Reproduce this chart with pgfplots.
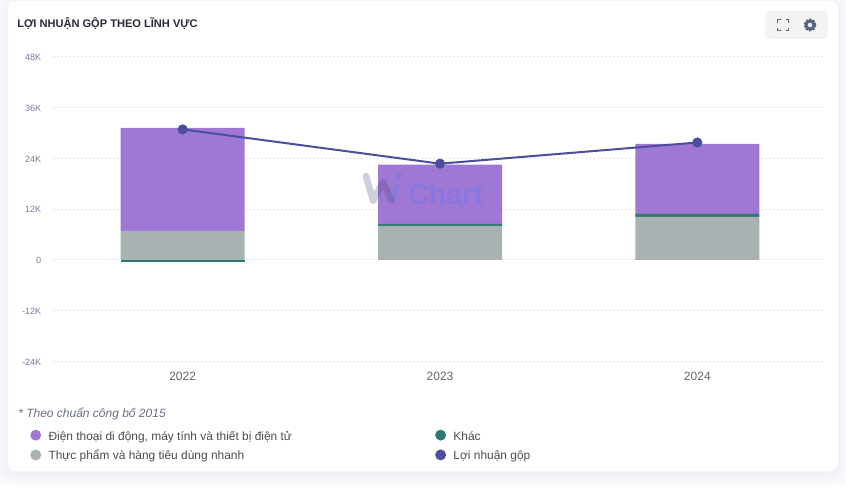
\documentclass[border=0pt]{standalone}
\usepackage{pgfplots}
\pgfplotsset{compat=1.18}
\usepackage{fontspec}
\setmainfont{Liberation Sans}
\definecolor{cPurple}{HTML}{9F77D5}
\definecolor{cGray}{HTML}{A9B1B3}
\definecolor{cGreen}{HTML}{2E7A71}
\definecolor{cLine}{HTML}{4A4E9C}
\definecolor{cGrid}{HTML}{C9CBD3}
\definecolor{cTick}{HTML}{7A7B9C}
\definecolor{cIcon}{HTML}{566580}
\definecolor{cTitle}{HTML}{2A2B3A}
\definecolor{cNote}{HTML}{6B6F85}
\definecolor{cBtn}{HTML}{F4F3F2}
\definecolor{cMarkA}{HTML}{3E4270}
\definecolor{cMarkB}{HTML}{537AF3}
\pgfplotsset{
  frame/.style={
    at={(40.5pt,-271.125pt)}, anchor=south west,
    scale only axis, width=579pt, height=228.75pt,
    xmin=-0.5, xmax=2.5, ymin=-24, ymax=48,
    axis line style={draw=none}, tick style={draw=none},
    xtick={0,1,2}, ytick={-24,-12,0,12,24,36,48},
    clip=false,
  },
  blank/.style={frame, xticklabels={}, yticklabels={}},
  dot/.style={legend image code/.code={\fill[#1,draw=none] (0.1cm,0) circle (4.1pt); \path[draw=none] (0.1cm,0) -- ++(8.6pt,0);}},
}
\begin{document}
\begin{tikzpicture}[x=0.75pt,y=-0.75pt]
\useasboundingbox (0,0) rectangle (846,489);
\fill[white] (0,0) rectangle (846,489);
% card with soft shadow
\foreach \d/\o in {14/0.05,11/0.06,8/0.07,5/0.08,2/0.10}
  \fill[black!30!blue!15,opacity=\o,rounded corners=8] (8-\d,1-\d+3) rectangle (838+\d,471+\d+3);
\fill[white,rounded corners=6] (8,1) rectangle (838,471);

\node[anchor=west,text=cTitle,inner sep=0,font=\fontsize{8.3}{10}\selectfont\bfseries] at (17,24) {LỢI NHUẬN GỘP THEO LĨNH VỰC};

% buttons
\fill[cBtn,rounded corners=4] (765,11) rectangle (828,39);
\begin{scope}[draw=cIcon,line width=1.1pt]
  \draw (777.5,22.5) -- (777.5,19.5) -- (780.5,19.5);
  \draw (785.5,19.5) -- (788.5,19.5) -- (788.5,22.5);
  \draw (788.5,27.5) -- (788.5,30.5) -- (785.5,30.5);
  \draw (780.5,30.5) -- (777.5,30.5) -- (777.5,27.5);
\end{scope}
\draw[cIcon,line width=2.2pt] (810,25) circle (3pt);
\draw[cIcon,line width=1.5pt,dash pattern=on 1.5pt off 1.1pt] (810,25) circle (4.1pt);

\begin{axis}[blank,
    ymajorgrids, grid style={cGrid,line width=0.75pt,dash pattern=on 0.75pt off 2.25pt},
    xticklabels={2022,2023,2024},
    yticklabels={-24K,-12K,0,12K,24K,36K,48K},
    xticklabel style={font=\fontsize{9}{10}\selectfont,text=black!60,yshift=-4.2pt},
    yticklabel style={font=\fontsize{6.8}{8}\selectfont,text=cTick,xshift=-6pt,yshift=-0.5pt},
    ybar stacked, bar width=93pt,
  ]
  \addplot[fill=cGray,draw=none] coordinates {(0,6.85) (1,8.0) (2,10.15)};
  \addplot[fill=cGreen,draw=none] coordinates {(0,0) (1,0.5) (2,0.7)};
  \addplot[fill=cPurple,draw=none] coordinates {(0,24.3) (1,14.0) (2,16.5)};
\end{axis}
% 2022's Khác is negative, so it hangs below zero on its own
\begin{axis}[blank, ybar, bar width=93pt, bar shift=0pt]
  \addplot[fill=cGreen,draw=none] coordinates {(0,-0.4)};
\end{axis}

\begin{axis}[blank,
    legend columns=2,
    legend cell align=left,
    legend style={at={(-0.0311,-0.2155)},anchor=north west,draw=none,fill=none,inner sep=0pt,
      font=\fontsize{8.95}{10}\selectfont,text=black!70,
      row sep=3.3pt,
      nodes={inner sep=1pt,anchor=west,text depth=0.2ex,text height=1.6ex}},
  ]
  \addplot[cLine,line width=1.5pt,mark=*,mark size=3pt,mark options={fill=cLine,draw=cLine},forget plot]
    coordinates {(0,30.8) (1,22.7) (2,27.7)};
  \addlegendimage{dot=cPurple}
  \addlegendentry{\makebox[289pt][l]{Điện thoại di động, máy tính và thiết bị điện tử}}
  \addlegendimage{dot=cGreen}
  \addlegendentry{Khác}
  \addlegendimage{dot=cGray}
  \addlegendentry{Thực phẩm và hàng tiêu dùng nhanh}
  \addlegendimage{dot=cLine}
  \addlegendentry{Lợi nhuận gộp}
\end{axis}

% watermark
\draw[cMarkA,opacity=0.25,line width=5pt,line cap=round,line join=round]
  (366,176) -- (373,200.5) -- (383,182) -- (391.5,200.5);
\draw[cMarkB,opacity=0.3,line width=4pt,line cap=round]
  (392.5,199) -- (396.7,187);
\fill[cMarkB,opacity=0.3] (399,175.7) circle (3.5);
\node[anchor=west,inner sep=0,opacity=0.3,text=cMarkB,font=\fontsize{21.5}{22}\selectfont\bfseries] at (408,194) {Chart};

\node[anchor=west,inner sep=0,text=cNote,font=\fontsize{9}{10}\selectfont\itshape] at (18,413.5) {* Theo chuẩn công bố 2015};
\end{tikzpicture}
\end{document}
